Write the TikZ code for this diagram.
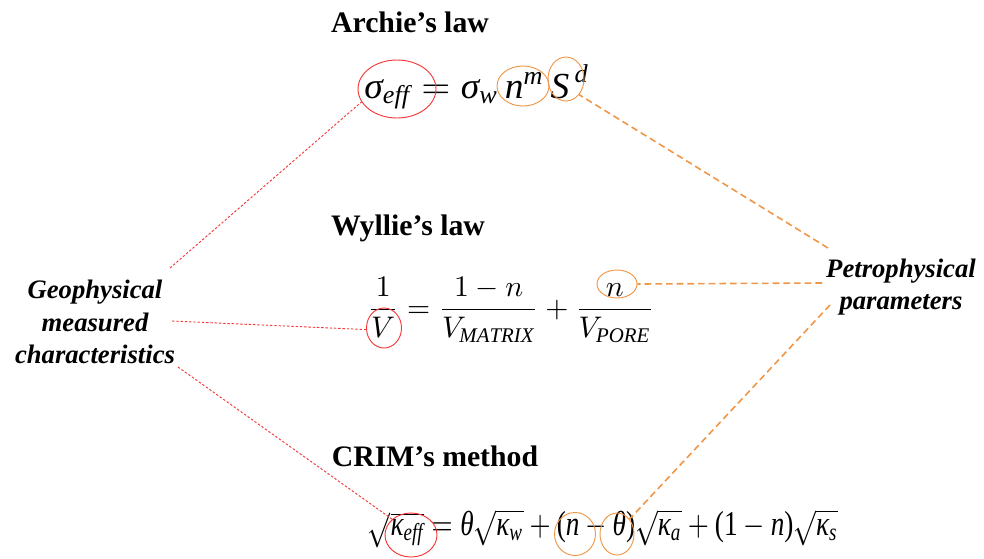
\documentclass[tikz,border=0pt]{standalone}
\usepackage{amsmath}
\usepackage{fontspec}
\usepackage{graphicx}
\setmainfont{Liberation Serif}
\usetikzlibrary{shapes.geometric}
\definecolor{lred}{RGB}{245,55,55}
\definecolor{lorange}{RGB}{240,150,70}
\newcommand{\ti}[1]{\text{\itshape #1}}
\newcommand{\tu}[1]{\text{\upshape #1}}
\tikzset{
  title/.style={font=\bfseries\fontsize{22.3}{26}\selectfont, inner sep=0pt},
  side/.style={font=\bfseries\itshape\fontsize{20}{24.5}\selectfont, align=center, inner sep=0pt},
  eq/.style={inner sep=0pt},
  redell/.style={ellipse, draw=lred, line width=0.7pt, inner sep=0pt},
  orell/.style={ellipse, draw=lorange, line width=0.7pt, inner sep=0pt},
  redline/.style={draw=lred, line width=0.7pt, dash pattern=on 1.8pt off 1.4pt},
  orline/.style={draw=lorange, line width=1.2pt, dash pattern=on 5pt off 3pt},
}
\begin{document}
\begin{tikzpicture}[x=0.75pt, y=-0.75pt]
\useasboundingbox (0,0) rectangle (984,558);

% titles
\node[title] (archie) at (410,22) {Archie’s law};
\node[title] (wyllie) at (408,228) {Wyllie’s law};
\node[title] (crim) at (435,456) {CRIM’s method};

% side texts
\node[side] (geo) at (95,322) {Geophysical\\measured\\characteristics};
\node[side] (petro) at (901,287) {Petrophysical\\parameters};

% formulas
\node[eq] (archieeq) at (477,87) {\resizebox*{168.75pt}{33pt}{$\ti{σ}_{\ti{eff}} = \ti{σ}_{\ti{w}}\,\ti{n}^{\ti{m}}\,\ti{S}^{\,\ti{d}}$}};
\node[eq] (wyllieeq) at (511,310) {\resizebox{215pt}{!}{$\displaystyle \frac{1}{V} = \frac{1-n}{V_{\mathit{MATRIX}}} + \frac{n}{V_{\mathit{PORE}}}$}};
\node[eq] (crimeq) at (603,529) {\resizebox*{352.5pt}{29pt}{$\sqrt{\ti{κ}_{\ti{eff}}} = \ti{θ}\sqrt{\ti{κ}_{\ti{w}}} +\tu{(}\ti{n}-\ti{θ}\tu{)}\sqrt{\ti{κ}_{\ti{a}}} +\tu{(1}-\ti{n}\tu{)}\sqrt{\ti{κ}_{\ti{s}}}$}};

% highlight ellipses
\node[redell, minimum width=58.5pt, minimum height=43.5pt] (sig) at (397,89) {};
\node[orell, minimum width=39pt, minimum height=30pt] (nm) at (523,86) {};
\node[orell, minimum width=27pt, minimum height=33pt] (sd) at (566,79) {};
\node[redell, minimum width=26.25pt, minimum height=30pt] (vv) at (384,328) {};
\node[orell, minimum width=30pt, minimum height=21pt] (nw) at (617,284) {};
\node[redell, minimum width=39pt, minimum height=33pt] (keff) at (411,535) {};
\node[orell, minimum width=30.75pt, minimum height=32.25pt] (nc) at (575,534) {};
\node[orell, minimum width=25.5pt, minimum height=31.5pt] (th) at (617,534) {};

% connector ends at the side texts
\coordinate (g1) at (170,268);
\coordinate (g2) at (172,321);
\coordinate (g3) at (178,367);
\coordinate (p1) at (828,248);
\coordinate (p2) at (822,283);
\coordinate (p3) at (830,305);

\draw[redline] (g1) -- (sig.200);
\draw[redline] (g2) -- (vv.185);
\draw[redline] (g3) -- (keff.140);
\draw[orline] (p1) -- (sd.310);
\draw[orline] (p2) -- (nw.east);
\draw[orline] (p3) -- (th.50);
\end{tikzpicture}
\end{document}
